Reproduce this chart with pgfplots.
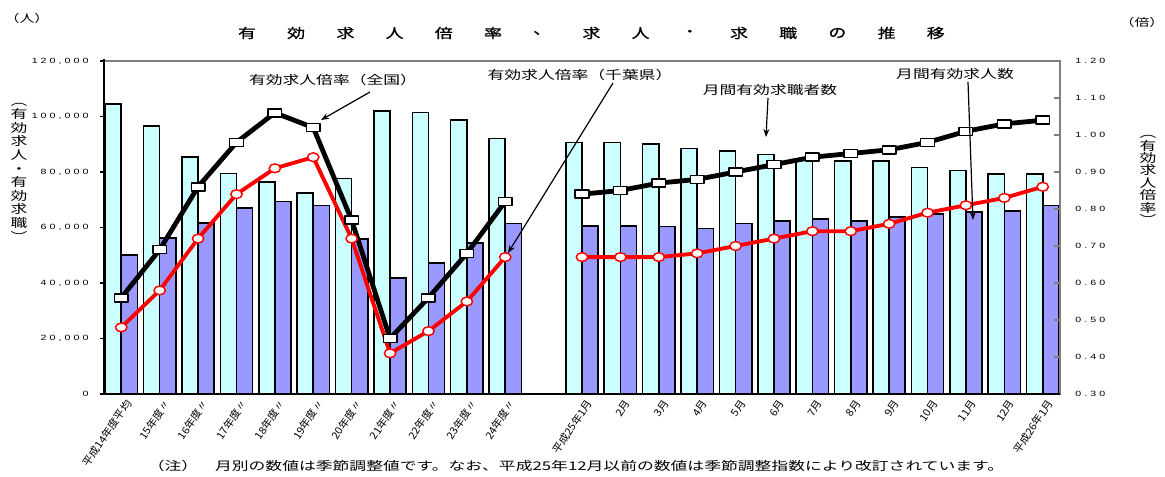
\documentclass[border=0pt]{standalone}
\usepackage{pgfplots}
\pgfplotsset{compat=1.18}
\usepackage{pgfplotstable}
\usetikzlibrary{arrows.meta}
\usepackage{fontspec}
\setmainfont{Noto Sans CJK JP}[FakeStretch=1.4]
\newfontfamily\numfont{Liberation Sans}[FakeStretch=1.4]
\newfontfamily\titlefont{Noto Sans CJK JP}[FakeStretch=1.35,FakeBold=1]
\newfontfamily\xfont{Noto Sans CJK JP}[FakeStretch=1.05]
\definecolor{seek}{HTML}{CCFFFF}
\definecolor{offer}{HTML}{9999FF}
\definecolor{frame}{HTML}{808080}

% wide tracking for the tick numbers
\ExplSyntaxOn
\NewDocumentCommand\spaced{m}{\kern-2.3pt\tl_map_inline:nn{#1}{\kern2.3pt##1}}
\ExplSyntaxOff

% 月間有効求職者数 (seek), 月間有効求人数 (offer)
\pgfplotstableread{
x seek offer
0 104500 50100
1 96600 56200
2 85500 61600
3 79500 67000
4 76300 69300
5 72400 67900
6 77700 55900
7 102000 41800
8 101400 47300
9 98700 54400
10 92000 61400
12 90700 60500
13 90700 60500
14 90100 60300
15 88500 59700
16 87500 61400
17 86300 62300
18 84600 63000
19 84000 62300
20 84000 63800
21 81600 64800
22 80500 65500
23 79300 66000
24 79300 67900
}\bars

% 有効求人倍率: 全国 / 千葉県
\pgfplotstableread{
x zenkoku chiba
0 0.56 0.48
1 0.69 0.58
2 0.86 0.72
3 0.98 0.84
4 1.06 0.91
5 1.02 0.94
6 0.77 0.72
7 0.45 0.41
8 0.56 0.47
9 0.68 0.55
10 0.82 0.67
11 nan nan
12 0.84 0.67
13 0.85 0.67
14 0.87 0.67
15 0.88 0.68
16 0.90 0.70
17 0.92 0.72
18 0.94 0.74
19 0.95 0.74
20 0.96 0.76
21 0.98 0.79
22 1.01 0.81
23 1.03 0.83
24 1.04 0.86
}\ratio

\begin{document}
\begin{tikzpicture}
\path[use as bounding box] (0,0) rectangle (873.75pt,357.75pt);

\begin{axis}[
  at={(78pt,62.25pt)}, anchor=south west, scale only axis,
  width=717pt, height=249.75pt,
  xmin=-0.45, xmax=24.45, ymin=0, ymax=120000,
  axis line style={draw=none},
  scaled y ticks=false,
  ytick={0,20000,40000,60000,80000,100000,120000},
  yticklabels={\spaced{0},\spaced{20,000},\spaced{40,000},\spaced{60,000},\spaced{80,000},\spaced{100,000},\spaced{120,000}},
  ytick pos=left, yticklabel pos=left,
  tick align=outside, major tick length=3pt,
  ytick style={black, line width=0.8pt},
  yticklabel style={font=\numfont\fontsize{5.7pt}{6pt}\selectfont, anchor=east, xshift=-5pt},
  xtick={0,1,2,3,4,5,6,7,8,9,10,12,13,14,15,16,17,18,19,20,21,22,23,24},
  xticklabels={平成14年度平均,15年度〃,16年度〃,17年度〃,18年度〃,19年度〃,20年度〃,21年度〃,22年度〃,23年度〃,24年度〃,
    平成25年1月,2月,3月,4月,5月,6月,7月,8月,9月,10月,11月,12月,平成26年1月},
  xtick pos=bottom, xtick style={draw=none},
  xticklabel style={font=\xfont\fontsize{7.8pt}{8pt}\selectfont, rotate=56, anchor=east, inner sep=0pt, yshift=-6pt, xshift=1.5pt},
]
\addplot[ybar, bar width=0.42, bar shift=-0.21, fill=seek, draw=black, line width=1.2pt]
  table[x=x, y=seek] {\bars};
\addplot[ybar, bar width=0.42, bar shift=0.21, fill=offer, draw=black, line width=1.2pt]
  table[x=x, y=offer] {\bars};
\end{axis}

\begin{axis}[
  at={(78pt,62.25pt)}, anchor=south west, scale only axis,
  width=717pt, height=249.75pt,
  xmin=-0.45, xmax=24.45, ymin=0.3, ymax=1.2,
  axis line style={draw=none},
  hide x axis,
  ytick={0.3,0.4,0.5,0.6,0.7,0.8,0.9,1.0,1.1,1.2},
  yticklabels={\spaced{0.30},\spaced{0.40},\spaced{0.50},\spaced{0.60},\spaced{0.70},\spaced{0.80},\spaced{0.90},\spaced{1.00},\spaced{1.10},\spaced{1.20}},
  ytick pos=right, yticklabel pos=right,
  tick align=inside, major tick length=4.5pt,
  ytick style={frame, line width=0.8pt},
  yticklabel style={font=\numfont\fontsize{5.7pt}{6pt}\selectfont, anchor=west, xshift=8pt},
  unbounded coords=jump,
]
\addplot[black, line width=3.6pt, line join=round,
  mark=square*, mark size=3pt,
  mark options={fill=white, draw=black, line width=1.1pt, xscale=1.7}]
  table[x=x, y=zenkoku] {\ratio};
\addplot[red, line width=2.9pt, line join=round,
  mark=*, mark size=3.3pt,
  mark options={fill=white, draw=red, line width=1.1pt, xscale=1.3}]
  table[x=x, y=chiba] {\ratio};
\end{axis}

\begin{scope}[x=0.75pt, y=-0.75pt, shift={(0pt,357.75pt)}]
  % frame
  \draw[frame, line width=1.5pt] (104,61) -- (1060,61);
  \draw[frame, line width=2.2pt] (1060,60) -- (1060,395);
  \draw[black, line width=2.2pt] (104,59.5) -- (104,395.5);
  \draw[black, line width=2pt] (103,394) -- (1060,394);
  % title
  \foreach \c [count=\i from 0] in {有,効,求,人,倍,率,、,求,人,・,求,職,の,推,移}
    \node[font=\titlefont\fontsize{10pt}{10pt}\selectfont] at ({247+49.2*\i},33) {\c};
  \node[font=\fontsize{8pt}{8pt}\selectfont] at (27,18) {（人）};
  \node[font=\fontsize{8pt}{8pt}\selectfont] at (1142,22) {（倍）};
  % axis titles
  \node[font=\fontsize{9pt}{10.2pt}\selectfont, align=center] at (19,172)
    {︵\\有\\効\\求\\人\\・\\有\\効\\求\\職\\︶};
  \node[font=\fontsize{9pt}{9.3pt}\selectfont, align=center] at (1148,180)
    {︵\\有\\効\\求\\人\\倍\\率\\︶};
  % annotations
  \begin{scope}[font=\fontsize{9pt}{10pt}\selectfont]
    \node at (333,80) {有効求人倍率（全国）};
    \node at (580,75) {有効求人倍率（千葉県）};
    \node at (770,90) {月間有効求職者数};
    \node at (955,74) {月間有効求人数};
  \end{scope}
  \begin{scope}[line width=0.9pt, -{Stealth[length=6pt, width=4.5pt]}]
    \draw (370,92) -- (321,120);
    \draw (613,83) -- (508,253);
    \draw (768,98) -- (766,137);
    \draw (968,82) -- (973,220);
  \end{scope}
  % note
  \node[font=\fontsize{9pt}{10pt}\selectfont] at (576,466)
    {（注）　月別の数値は季節調整値です。なお、平成25年12月以前の数値は季節調整指数により改訂されています。};
\end{scope}
\end{tikzpicture}
\end{document}
